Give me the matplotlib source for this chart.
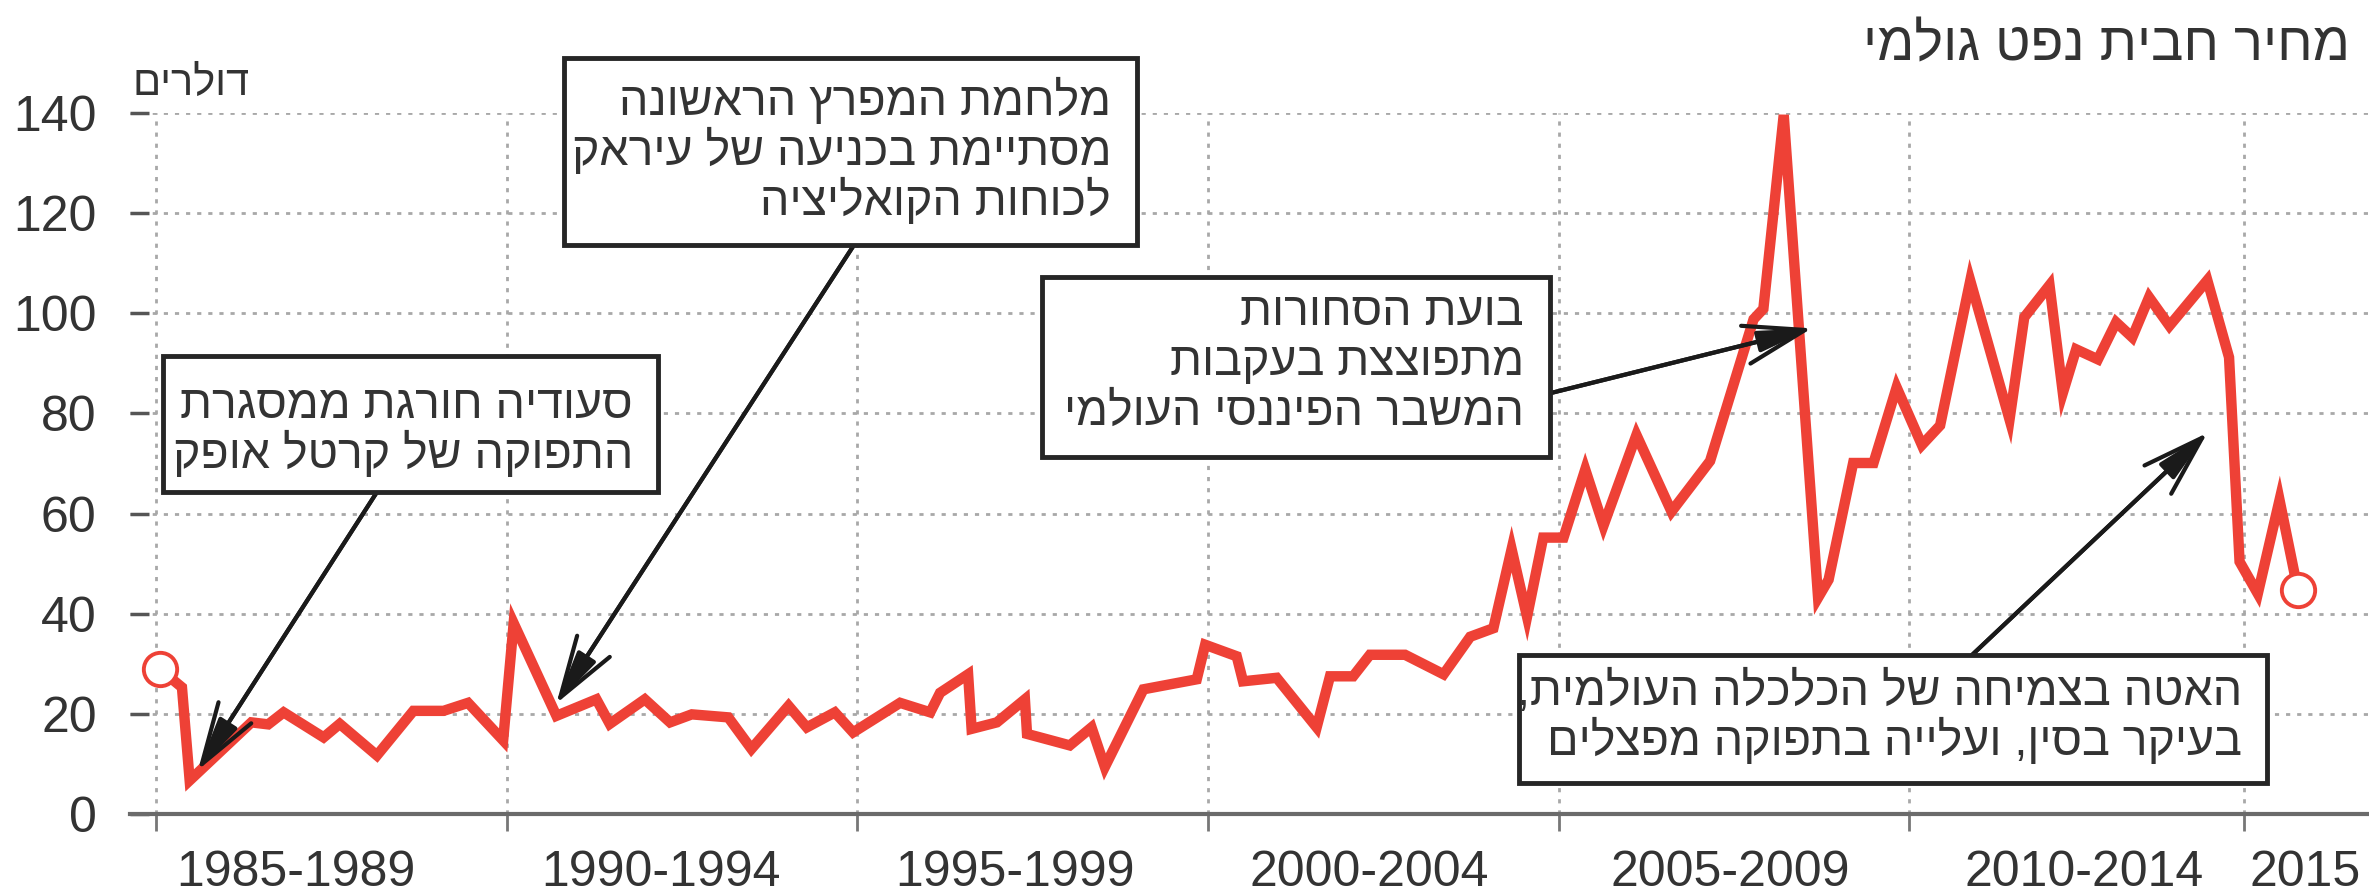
import matplotlib
matplotlib.use("Agg")
import matplotlib.pyplot as plt
from matplotlib.patches import Rectangle

# --- canvas (pixels of the reference) ---
W, H = 2369, 892
DPI = 100

# --- data: crude oil barrel price (USD) ---
years = [1985.05, 1985.37, 1985.48, 1986.36, 1986.60, 1986.82, 1987.39, 1987.62,
         1988.15, 1988.67, 1989.10, 1989.45, 1989.95, 1990.10, 1990.71, 1991.28,
         1991.47, 1991.97, 1992.33, 1992.64, 1993.16, 1993.49, 1994.02, 1994.28,
         1994.68, 1994.94, 1995.61, 1996.04, 1996.18, 1996.58, 1996.63, 1996.99,
         1997.39, 1997.42, 1998.03, 1998.34, 1998.53, 1999.08, 1999.84, 1999.96,
         2000.41, 2000.50, 2000.98, 2001.55, 2001.74, 2002.07, 2002.31, 2002.81,
         2003.36, 2003.74, 2004.07, 2004.33, 2004.55, 2004.78, 2005.07, 2005.38,
         2005.64, 2006.11, 2006.61, 2007.16, 2007.78, 2007.92, 2008.21, 2008.70,
         2008.85, 2009.20, 2009.49, 2009.82, 2010.18, 2010.44, 2010.87, 2011.43,
         2011.64, 2012.00, 2012.19, 2012.38, 2012.69, 2012.95, 2013.18, 2013.42,
         2013.71, 2014.25, 2014.56, 2014.71, 2014.97, 2015.28, 2015.54]
prices = [29.0, 25.3, 6.7, 18.3, 17.9, 20.3, 15.3, 18.0,
          11.7, 20.6, 20.6, 22.2, 14.7, 38.1, 19.6, 22.9,
          18.0, 22.9, 18.3, 19.9, 19.3, 13.0, 21.6, 17.3,
          20.3, 16.3, 22.2, 20.3, 24.2, 27.9, 17.0, 18.3,
          22.9, 16.0, 13.7, 17.3, 9.4, 24.9, 26.9, 33.8,
          31.5, 26.5, 27.2, 17.3, 27.5, 27.5, 31.8, 31.8,
          27.9, 35.4, 37.1, 52.9, 39.4, 55.2, 55.2, 68.8,
          57.6, 75.7, 60.4, 70.5, 98.8, 100.9, 139.6, 43.2,
          46.8, 70.1, 70.1, 85.2, 73.7, 77.6, 106.5, 78.8,
          99.2, 105.6, 84.1, 92.8, 90.8, 98.2, 95.2, 103.2,
          97.5, 106.6, 91.2, 50.4, 44.0, 62.7, 44.8]

period_ticks = [1985, 1990, 1995, 2000, 2005, 2010, 2014.78]
period_label_pos = [1987.0, 1992.2, 1997.25, 2002.3, 2007.45, 2012.5, 2015.65]
period_labels = ["1985-1989", "1990-1994", "1995-1999", "2000-2004",
                 "2005-2009", "2010-2014", "2015"]
y_ticks = [0, 20, 40, 60, 80, 100, 120, 140]

title = "מחיר חבית נפט גולמי"
unit_label = "דולרים"

note_saudi = ["סעודיה חורגת ממסגרת", "התפוקה של קרטל אופק"]
note_gulf = ["מלחמת המפרץ הראשונה", "מסתיימת בכניעה של עיראק", "לכוחות הקואליציה"]
note_bubble = ["בועת הסחורות", "מתפוצצת בעקבות", "המשבר הפיננסי העולמי"]
note_china = ["האטה בצמיחה של הכלכלה העולמית,", "בעיקר בסין, ועלייה בתפוקה מפצלים"]

# arrow targets on the series (year, price)
tip_saudi = (1985.60, 8.8)
tip_gulf = (1990.71, 22.1)
tip_bubble = (2008.61, 97.0)
tip_china = (2014.25, 76.1)

# --- style ---
RED = "#EE4136"
TEXT = "#333333"
FONTS = ["Liberation Sans", "DejaVu Sans"]
plt.rcParams["font.family"] = FONTS


def heb(s):
    # matplotlib has no bidi support: hand it the visual (right-to-left) order
    return s[::-1]


def fx(px):
    return px / W


def fy(py):
    return 1 - py / H


# pixel geometry of the plot area
PX_LEFT, PX_Y0, PX_Y140 = 130, 814, 113
PX_1985, PX_PER_YEAR = 156, 70.13

fig = plt.figure(figsize=(W / DPI, H / DPI), dpi=DPI)
ax = fig.add_axes([fx(PX_LEFT), fy(PX_Y0), 1 - fx(PX_LEFT), (PX_Y0 - PX_Y140) / H])
ax.set_xlim(1985 - (PX_1985 - PX_LEFT) / PX_PER_YEAR, 1985 + (W - PX_1985) / PX_PER_YEAR)
ax.set_ylim(0, 140)

for side in ["left", "top", "right"]:
    ax.spines[side].set_visible(False)
ax.spines["bottom"].set_color("#6b6b6b")
ax.spines["bottom"].set_linewidth(3)

ax.set_xticks(period_ticks)
ax.set_xticklabels([])
ax.set_xticks(period_label_pos, minor=True)
ax.set_xticklabels(period_labels, minor=True)
ax.set_yticks(y_ticks)
ax.set_yticklabels([str(v) for v in y_ticks])

ax.grid(True, which="major", color="#a8a8a8", linestyle=(0, (1.5, 2.5)), linewidth=2)
ax.set_axisbelow(True)

ax.tick_params(axis="y", direction="in", length=14, width=2.5, color="#555555",
               pad=24, labelsize=36, labelcolor=TEXT)
ax.tick_params(axis="x", which="major", direction="out", length=12, width=2, color="#777777")
ax.tick_params(axis="x", which="minor", length=0, pad=26, labelsize=36, labelcolor=TEXT)

# series
ax.plot(years, prices, color=RED, lw=7.5, solid_joinstyle="miter", clip_on=False, zorder=3)
ax.plot([years[0], years[-1]], [prices[0], prices[-1]], "o", ms=24, mfc="white",
        mec=RED, mew=2.8, clip_on=False, zorder=4)

# annotation boxes: (lines, box l/t/r/b, text right edge, first baseline, tail, tip)
notes = [
    (note_saudi, (163, 356, 658, 492), 633, 418, (377, 492), tip_saudi),
    (note_gulf, (564, 58, 1137, 245), 1111, 115, (854, 245), tip_gulf),
    (note_bubble, (1042, 277, 1550, 457), 1524, 325, (1551, 393), tip_bubble),
    (note_china, (1519, 655, 2267, 783), 2242, 705, (1972, 655), tip_china),
]
LINE_STEP = 50

for lines, (l, t, r, b), tx, base, tail, tip in notes:
    fig.add_artist(Rectangle((fx(l), fy(b)), (r - l) / W, (b - t) / H,
                             transform=fig.transFigure, fc="white", ec="#262626",
                             lw=3.5, zorder=5))
    for i, line in enumerate(lines):
        fig.text(fx(tx), fy(base + i * LINE_STEP), heb(line), ha="right", va="baseline",
                 fontsize=33.5, color=TEXT, zorder=6)
    # open barbs plus a slim filled tip, like the printed arrows
    for style in ["->,head_length=1.1,head_width=0.35", "-|>,head_length=0.8,head_width=0.16"]:
        ax.annotate("", xy=tip, xycoords="data", xytext=(fx(tail[0]), fy(tail[1])),
                    textcoords="figure fraction", annotation_clip=False, zorder=6,
                    arrowprops=dict(arrowstyle=style, color="#1a1a1a", lw=3,
                                    shrinkA=0, shrinkB=0, mutation_scale=40))

fig.text(fx(2350), fy(60), heb(title), ha="right", va="baseline", fontsize=39, color=TEXT)
fig.text(fx(133), fy(95), heb(unit_label), ha="left", va="baseline", fontsize=30, color=TEXT)

fig.savefig("out.png", dpi=DPI)
